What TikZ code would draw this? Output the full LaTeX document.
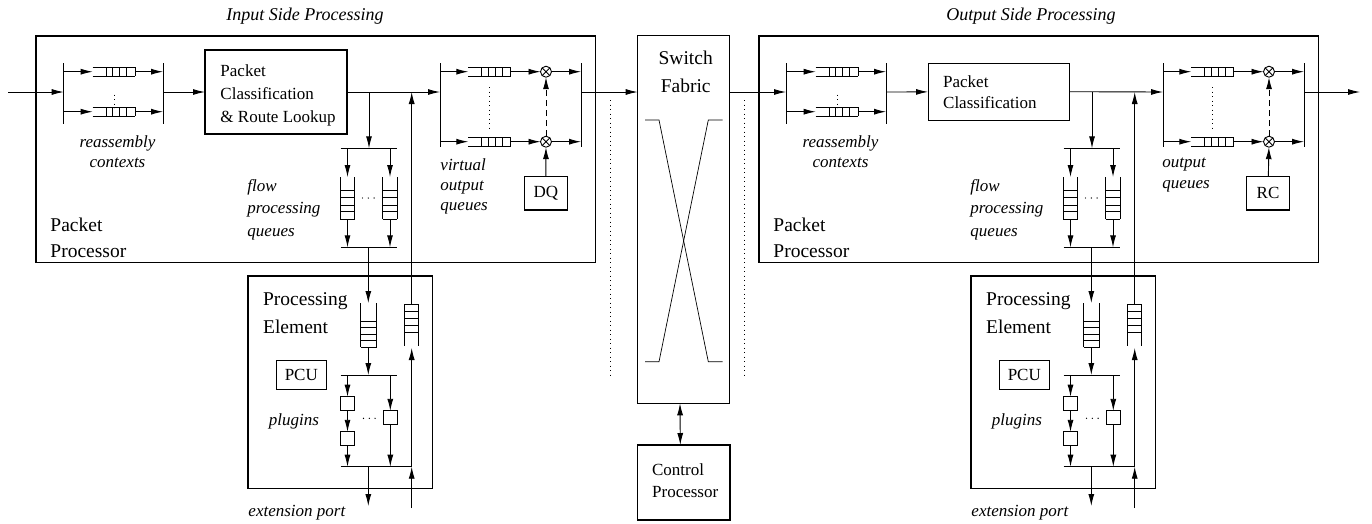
\documentclass[tikz,border=0pt]{standalone}
\usepackage{fontspec}
\setmainfont{Liberation Serif}
\usetikzlibrary{arrows.meta,calc}

\begin{document}
\begin{tikzpicture}[x=1pt,y=-1pt,
  line width=0.9pt,
  arr/.style={-{Latex[length=12pt,width=6pt]}},
  dblarr/.style={{Latex[length=12pt,width=6pt]}-{Latex[length=12pt,width=6pt]}},
  box/.style={draw,line width=1.1pt,outer sep=0pt},
  dots/.style={dash pattern=on 0.9pt off 3.6pt},
  lbl/.style={font=\fontsize{17}{22}\selectfont,inner sep=0pt,align=left},
  itl/.style={font=\fontsize{17}{20}\selectfont\itshape,inner sep=0pt,align=left},
  big/.style={font=\fontsize{19.5}{28}\selectfont,inner sep=0pt,align=left},
  ttl/.style={font=\fontsize{18}{20}\selectfont\itshape,inner sep=0pt},
  mult/.style={circle,draw,minimum size=11pt,inner sep=0pt,outer sep=0pt,
    path picture={
      \draw ([shift={(-4.5,-4.5)}]path picture bounding box.center) -- ([shift={(4.5,4.5)}]path picture bounding box.center)
            ([shift={(-4.5,4.5)}]path picture bounding box.center) -- ([shift={(4.5,-4.5)}]path picture bounding box.center);}},
  hqueue/.pic={
    \draw (0,-4.3) -- (42.3,-4.3) (0,4.3) -- (42.3,4.3);
    \foreach \i in {13.3,20,26.7,34,42.3} \draw (\i,-4.3) -- (\i,4.3);},
  vqueue/.pic={
    \draw (-7.3,0) -- (-7.3,42.3) (7.3,0) -- (7.3,42.3);
    \foreach \i in {13,20.3,28,34.7,42.3} \draw (-7.3,\i) -- (7.3,\i);},
  plug/.style={draw,minimum width=14pt,minimum height=14pt,inner sep=0pt,outer sep=0pt}
]
\useasboundingbox (0,0) rectangle (1372,523);

% titles
\node[ttl] (tin) at (305,16) {Input Side Processing};
\node[ttl] (tout) at (1031,16) {Output Side Processing};

% main blocks
\node[box,minimum width=559.7pt,minimum height=226.7pt] (pp-in) at (315.85,149.35) {};
\node[box,minimum width=559.7pt,minimum height=226.7pt] (pp-out) at (1038.85,149.35) {};
\node[box,minimum width=184.7pt,minimum height=212.3pt] (pe-in) at (340.35,382.15) {};
\node[box,minimum width=184.7pt,minimum height=212.3pt] (pe-out) at (1063.35,382.15) {};
\node[box,minimum width=91.6pt,minimum height=367.6pt] (sf) at (683.5,219.5) {};
\node[box,minimum width=92.3pt,minimum height=75pt] (cp) at (683.8,482.5) {};

\node[big,align=center] (sft) at (685.7,72.3) {Switch\\Fabric};
\node[lbl,anchor=west,font=\fontsize{17}{21.7}\selectfont] (cpt) at (651.7,481) {Control\\Processor};

% classification boxes
\node[box,minimum width=142pt,minimum height=84pt] (pc-in) at (276,92) {};
\node[lbl,anchor=west,font=\fontsize{17}{22.8}\selectfont] (pct-in) at (220,95.5) {Packet\\Classification\\\& Route Lookup};
\node[box,minimum width=141.3pt,minimum height=56.7pt] (pc-out) at (998.7,91.7) {};
\node[lbl,anchor=west,font=\fontsize{17}{21}\selectfont] (pct-out) at (942.7,91.7) {Packet\\Classification};

% schedulers
\node[box,lbl,minimum width=43pt,minimum height=33.3pt] (q-in) at (545.8,193.3) {DQ};
\node[box,lbl,minimum width=42.6pt,minimum height=33.3pt] (q-out) at (1268,193.3) {RC};

% external connections
\coordinate (src) at (8,92);
\coordinate (dst) at (1360,92);
\draw[arr] (src) -- (63.7,92);
\draw[arr] (1304,92) -- (dst);
\draw[arr] (581,92) -- (sf.west |- 581,92);
\draw[arr] (sf.east |- 0,92) -- (786,92);
\draw[dblarr] ([xshift=-3.5pt]sf.south) -- ([xshift=-3.5pt]cp.north);

% crossbar
\draw[line width=0.7pt] (645,120) -- (659,120) -- (708.3,361.7) -- (722.7,361.7);
\draw[line width=0.7pt] (722.7,120) -- (708.3,120) -- (659,361.7) -- (645,361.7);

% port dots
\draw[dots] (610,100) -- (610,377);
\draw[dots] (744,100) -- (744,377);

\foreach \s/\n in {0/in,723/out} {
\begin{scope}[xshift=\s]
  % reassembly contexts
  \draw (63.7,63) -- (63.7,124) (163,63) -- (163,124);
  \foreach \y in {71.7,111.7} {
    \draw[arr] (63.7,\y) -- (92.7,\y);
    \pic at (92.7,\y) {hqueue};
    \draw[arr] (135,\y) -- (163,\y);
  }
  \draw[dots] (114,94.5) -- (114,108);
  \draw[arr] (163,92) -- (pc-\n);
  \node[itl,align=center] (ra-\n) at (117.5,152) {reassembly\\contexts};

  % classifier output
  \draw[arr] (pc-\n.east) -- (440,92);
  \draw[arr] (369,92) -- (369,148.3);

  % flow processing queues
  \draw (340.7,148.3) -- (396.7,148.3) (340.7,247.3) -- (396.7,247.3);
  \foreach \x in {347.5,390} {
    \draw[arr] (\x,148.3) -- (\x,177);
    \pic at (\x,177) {vqueue};
    \draw[arr] (\x,219.3) -- (\x,247.3);
  }
  \foreach \x in {362.5,368.3,374.1} \fill (\x,198) circle (0.7);
  \node[itl,anchor=west,font=\fontsize{17}{22.5}\selectfont\itshape] (fq-\n) at (247,209.5) {flow\\processing\\queues};

  % output queues with schedulers
  \draw (440,63) -- (440,147) (581,63) -- (581,147);
  \foreach \y/\m in {71.7/a,141.7/b} {
    \draw[arr] (440,\y) -- (468.3,\y);
    \pic at (468.3,\y) {hqueue};
    \node[mult] (m\m-\n) at (546,\y) {};
    \draw[arr] (510.7,\y) -- (m\m-\n);
    \draw[arr] (m\m-\n) -- (581,\y);
  }
  \draw[dots] (489.3,87) -- (489.3,128);
  \draw[arr,dash pattern=on 6pt off 4pt] (mb-\n) -- (ma-\n);
  \draw[arr] (q-\n) -- (mb-\n);

  \node[big,anchor=west,font=\fontsize{19.5}{26}\selectfont] (ppt-\n) at (50,238) {Packet\\Processor};

  % processing element
  \node[big,anchor=west] (pet-\n) at (262.7,313) {Processing\\Element};
  \node[box,lbl,minimum width=50.7pt,minimum height=28.6pt,line width=0.9pt] (pcu-\n) at (301.3,375) {PCU};
  \draw[arr] (368.3,247.3) -- (368.3,303);
  \draw (360.7,303) -- (360.7,347) (376.7,303) -- (376.7,347);
  \foreach \i in {321,327.5,334,340.5,347} \draw (360.7,\i) -- (376.7,\i);
  \draw[arr] (368.3,347) -- (368.3,375);
  \draw (340.7,375) -- (396.7,375);
  \node[plug] (p1-\n) at (347.5,403.7) {};
  \node[plug] (p2-\n) at (347.5,438.8) {};
  \node[plug] (p3-\n) at (390.3,417.8) {};
  \draw[arr] (347.5,375) -- (p1-\n);
  \draw[arr] (p1-\n) -- (p2-\n);
  \draw[arr] (p2-\n) -- (347.5,466.7);
  \draw[arr] (390.3,375) -- (p3-\n);
  \draw[arr] (p3-\n) -- (390.3,466.7);
  \foreach \x in {363.5,369.3,375.1} \fill (\x,418.3) circle (0.7);
  \node[itl] (pl-\n) at (294,421) {plugins};
  \draw (340.7,466.7) -- (411.7,466.7);
  \coordinate (xo-\n) at (368.3,506);
  \coordinate (xi-\n) at (411.7,508);
  \draw[arr] (368.3,466.7) -- (xo-\n);
  \draw[arr] (xi-\n) -- (411.7,466.7);
  \draw[arr] (411.7,466.7) -- (411.7,348);
  \draw (404.3,304.3) -- (404.3,346) (418.3,304.3) -- (418.3,346);
  \foreach \i in {304.3,311.3,318.3,325.3,332.3} \draw (404.3,\i) -- (418.3,\i);
  \draw[arr] (411.7,304.3) -- (411.7,92);
  \node[itl,anchor=west] (ep-\n) at (248,513) {extension port};
\end{scope}
}

\node[itl,anchor=west] (voq) at (440,186.7) {virtual\\output\\queues};
\node[itl,anchor=west,font=\fontsize{17}{21}\selectfont\itshape] (oq) at (1162,175.5) {output\\queues};
\end{tikzpicture}
\end{document}
